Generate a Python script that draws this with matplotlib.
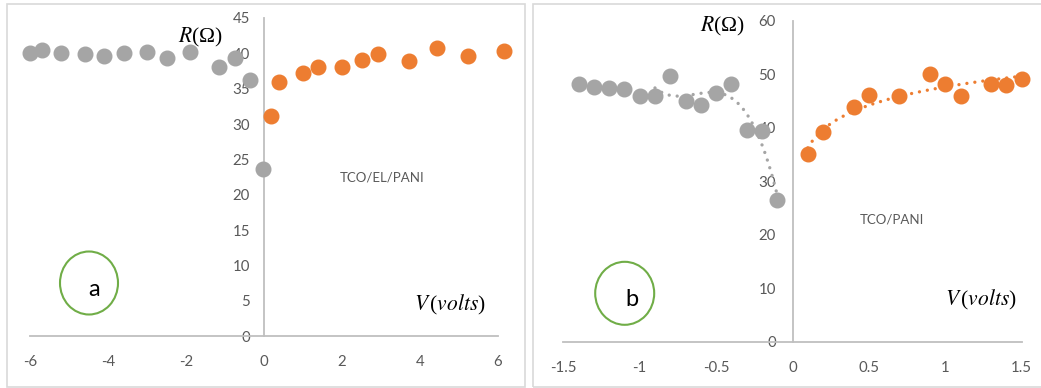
import numpy as np
import matplotlib
matplotlib.use("Agg")
import matplotlib.pyplot as plt
from matplotlib.patches import Rectangle, Ellipse

plt.rcParams['mathtext.fontset'] = 'stix'

# ---- data: panel a (TCO/EL/PANI)
a_neg_v = [-6.0, -5.7, -5.2, -4.6, -4.1, -3.6, -3.0, -2.5, -1.9, -1.15, -0.75, -0.35, -0.02]
a_neg_r = [40.0, 40.5, 40.0, 39.85, 39.65, 40.1, 40.15, 39.4, 40.15, 38.0, 39.4, 36.2, 23.6]
a_pos_v = [0.17, 0.38, 0.99, 1.39, 2.0, 2.5, 2.92, 3.72, 4.43, 5.24, 6.15]
a_pos_r = [31.2, 35.9, 37.2, 38.05, 38.1, 39.1, 39.85, 38.95, 40.75, 39.65, 40.3]
a_xticks = [-6, -4, -2, 0, 2, 4, 6]
a_yticks = [0, 5, 10, 15, 20, 25, 30, 35, 40, 45]

# ---- data: panel b (TCO/PANI)
b_neg_v = [-1.4, -1.3, -1.2, -1.1, -1.0, -0.9, -0.8, -0.7, -0.6, -0.5, -0.4, -0.3, -0.2, -0.1]
b_neg_r = [48.1, 47.65, 47.35, 47.2, 46.0, 45.9, 49.6, 45.0, 44.3, 46.55, 48.1, 39.5, 39.45, 26.5]
b_pos_v = [0.1, 0.2, 0.4, 0.5, 0.7, 0.9, 1.0, 1.1, 1.3, 1.4, 1.5]
b_pos_r = [35.0, 39.25, 43.9, 46.05, 46.0, 50.0, 48.2, 46.0, 48.2, 48.0, 49.1]
b_xticks = [-1.5, -1, -0.5, 0, 0.5, 1, 1.5]
b_xticklabels = ['-1.5', '-1', '-0.5', '0', '0.5', '1', '1.5']
b_yticks = [0, 10, 20, 30, 40, 50, 60]

GRAY = '#A5A5A5'
ORANGE = '#ED7D31'
AXC = '#BFBFBF'
TXT = '#595959'
GREEN = '#70AD47'
TICKFONT = 'Lato'

W, H = 1041, 388
fig = plt.figure(figsize=(W / 100, H / 100), dpi=100)


def fx(px):
    return px / W


def fy(py):
    return (H - py) / H


# panel frames
for (x0, y0, x1, y1) in [(7, 4, 525, 387), (533, 4, 1045, 387)]:
    fig.patches.append(Rectangle((fx(x0), fy(y1)), fx(x1) - fx(x0), fy(y0) - fy(y1),
                                 transform=fig.transFigure, fill=False,
                                 edgecolor='#D9D9D9', linewidth=1.2))


def make_axes(xl, xr, ytop, ybot):
    ax = fig.add_axes([fx(xl), fy(ybot), fx(xr) - fx(xl), fy(ytop) - fy(ybot)])
    ax.patch.set_visible(False)
    for s in ['top', 'right']:
        ax.spines[s].set_visible(False)
    ax.spines['left'].set_position(('data', 0))
    for s in ['left', 'bottom']:
        ax.spines[s].set_color(AXC)
        ax.spines[s].set_linewidth(1.3)
    ax.tick_params(length=0, labelcolor=TXT, labelsize=10.8)
    return ax


MS = 10.5
LBL = 15.5

# ---------------- panel a
ax = make_axes(30, 498, 18, 336)
ax.set_xlim(-6, 6)
ax.set_ylim(0, 45)
ax.set_xticks(a_xticks)
ax.set_yticks(a_yticks)
ax.set_xticklabels([str(v) for v in a_xticks], fontfamily=TICKFONT)
ax.set_yticklabels([str(v) for v in a_yticks], fontfamily=TICKFONT)
ax.tick_params(axis='y', pad=10)
ax.tick_params(axis='x', pad=14)
ax.plot(a_neg_v, a_neg_r, 'o', color=GRAY, ms=MS, mec=GRAY, clip_on=False, zorder=3)
ax.plot(a_pos_v, a_pos_r, 'o', color=ORANGE, ms=MS, mec=ORANGE, clip_on=False, zorder=3)

fig.text(fx(200), fy(37), r'$R$(Ω)', fontsize=LBL, fontfamily='Liberation Serif',
         ha='center', va='center')
fig.text(fx(450), fy(305), r'$V\,$($volts$)', fontsize=LBL, fontfamily='Liberation Serif',
         ha='center', va='center')
fig.text(fx(382), fy(177), 'TCO/EL/PANI', fontsize=9.5, fontfamily=TICKFONT,
         color=TXT, ha='center', va='center')
fig.patches.append(Ellipse((fx(89), fy(283)), fx(58), 63 / H, transform=fig.transFigure,
                           fill=False, edgecolor=GREEN, linewidth=1.5))
fig.text(fx(94), fy(290), 'a', fontsize=17, fontfamily=TICKFONT, ha='center', va='center')

# ---------------- panel b
bx = make_axes(563.3, 1021.7, 20.7, 341.7)
bx.set_xlim(-1.5, 1.5)
bx.set_ylim(0, 60)
bx.set_xticks(b_xticks)
bx.set_yticks(b_yticks)
bx.set_xticklabels(b_xticklabels, fontfamily=TICKFONT)
bx.set_yticklabels([str(v) for v in b_yticks], fontfamily=TICKFONT)
bx.tick_params(axis='y', pad=12)
bx.tick_params(axis='x', pad=14)

# trendlines computed from data
nv = np.array(b_neg_v)
nr = np.array(b_neg_r)
sel = nv >= -0.9
coef = np.polyfit(nv[sel], nr[sel], 3)
xx = np.linspace(-0.9, -0.1, 200)
bx.plot(xx, np.polyval(coef, xx), color=GRAY, lw=2.4, linestyle=(0, (0.01, 2.4)),
        dash_capstyle='round', zorder=2)
pv = np.array(b_pos_v)
pr = np.array(b_pos_r)
lc = np.polyfit(np.log(pv), pr, 1)
xp = np.linspace(0.1, 1.5, 200)
bx.plot(xp, lc[0] * np.log(xp) + lc[1], color=ORANGE, lw=2.4, linestyle=(0, (0.01, 2.4)),
        dash_capstyle='round', zorder=2)

bx.plot(b_neg_v, b_neg_r, 'o', color=GRAY, ms=MS, mec=GRAY, clip_on=False, zorder=3)
bx.plot(b_pos_v, b_pos_r, 'o', color=ORANGE, ms=MS, mec=ORANGE, clip_on=False, zorder=3)

fig.text(fx(722), fy(26), r'$R$(Ω)', fontsize=LBL, fontfamily='Liberation Serif',
         ha='center', va='center')
fig.text(fx(981), fy(300), r'$V\,$($volts$)', fontsize=LBL, fontfamily='Liberation Serif',
         ha='center', va='center')
fig.text(fx(892), fy(220), 'TCO/PANI', fontsize=9.5, fontfamily=TICKFONT,
         color=TXT, ha='center', va='center')
fig.patches.append(Ellipse((fx(624.7), fy(293.3)), fx(59), 63 / H, transform=fig.transFigure,
                           fill=False, edgecolor=GREEN, linewidth=1.5))
fig.text(fx(632), fy(299), 'b', fontsize=17, fontfamily=TICKFONT, ha='center', va='center')

fig.savefig('out.png', dpi=100)
